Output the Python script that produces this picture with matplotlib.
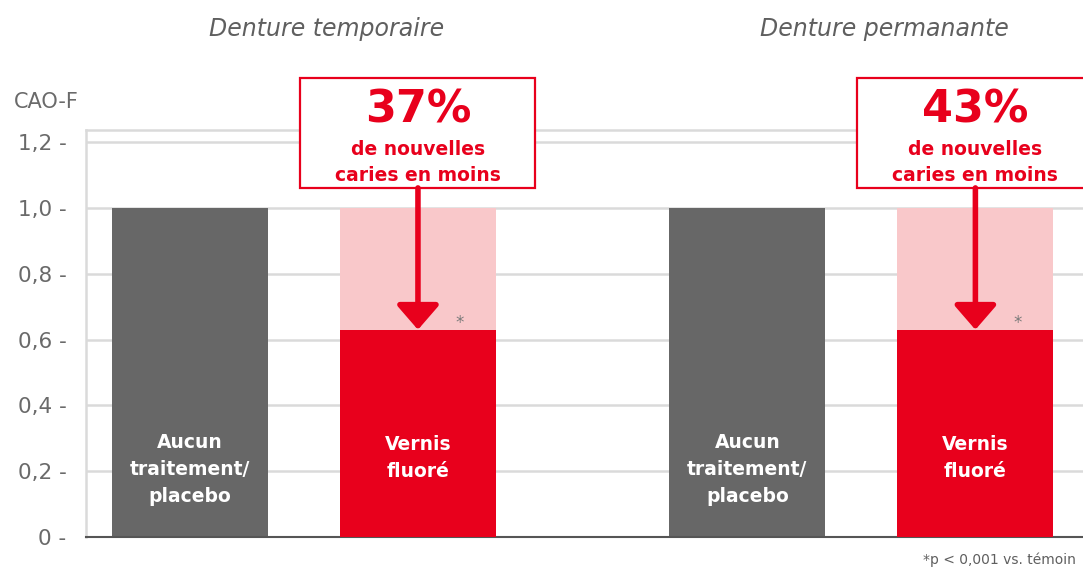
import matplotlib.pyplot as plt
from matplotlib.patches import Rectangle

# --- data
groups = ["Denture temporaire", "Denture permanante"]
labels = ["Aucun\ntraitement/\nplacebo", "Vernis\nfluoré"]
control = [1.0, 1.0]
vernis = [0.63, 0.63]
reductions = ["37%", "43%"]
yticks = [0, 0.2, 0.4, 0.6, 0.8, 1.0, 1.2]
ytick_labels = ["0 -", "0,2 -", "0,4 -", "0,6 -", "0,8 -", "1,0 -", "1,2 -"]

grey = "#676767"
red = "#e8001c"
pink = "#f9c8ca"
txt = "#5f5f5f"

plt.rcParams['font.family'] = ['DejaVu Sans']

fig = plt.figure(figsize=(10.83, 5.69), dpi=100)
ax = fig.add_axes([86 / 1083, 1 - 537 / 569, 1 - 86 / 1083, (537 - 130) / 569])

offsets = [0, 2.445]
w = 0.685
for g, off in enumerate(offsets):
    ax.bar(off, control[g], width=w, color=grey, zorder=2)
    ax.bar(off + 1, 1.0, width=w, color=pink, zorder=2)
    ax.bar(off + 1, vernis[g], width=w, color=red, zorder=3)

    ax.text(off, 0.205, labels[0], ha='center', va='center', color='white',
            fontsize=13.5, fontweight='bold', linespacing=1.55, zorder=4)
    ax.text(off + 1, 0.24, labels[1], ha='center', va='center', color='white',
            fontsize=13.5, fontweight='bold', linespacing=1.55, zorder=4)

    # asterisk
    ax.text(off + 1 + 0.185, vernis[g] + 0.02, "*", ha='center', va='center',
            color='#7a7a7a', fontsize=12, zorder=4)

    # callout box
    bx, bw = off + 1 - 0.518, 1.03
    ax.add_patch(Rectangle((bx, 1.061), bw, 0.334, facecolor='white',
                           edgecolor=red, lw=1.6, clip_on=False, zorder=5))
    ax.text(off + 1, 1.298, reductions[g], ha='center', va='center', color=red,
            fontsize=32, fontweight='bold', zorder=6, clip_on=False)
    ax.text(off + 1, 1.177, "de nouvelles", ha='center', va='center', color=red,
            fontsize=13.5, fontweight='bold', zorder=6, clip_on=False)
    ax.text(off + 1, 1.099, "caries en moins", ha='center', va='center', color=red,
            fontsize=13.5, fontweight='bold', zorder=6, clip_on=False)

    # arrow
    ax.annotate('', xy=(off + 1, vernis[g]), xytext=(off + 1, 1.061),
                arrowprops=dict(arrowstyle='-|>,head_length=0.75,head_width=0.65',
                                mutation_scale=20, lw=4, color=red,
                                shrinkA=0, shrinkB=0), zorder=6)

    # group title
    ax.text(off + 0.6, 1.545, groups[g], ha='center', va='center', color=txt,
            fontsize=17, fontstyle='italic', clip_on=False)

ax.set_xlim(-0.456, 3.917)
ax.set_ylim(0, 1.237)
ax.set_yticks(yticks)
ax.set_yticklabels(ytick_labels, fontsize=15.5, color='#6a6a6a')
ax.tick_params(axis='y', length=0, pad=14)
ax.set_xticks([])
ax.yaxis.grid(True, color='#dadada', lw=1.8, zorder=0)
ax.set_axisbelow(True)

for s in ['top', 'left', 'right']:
    ax.spines[s].set_color('#dadada')
    ax.spines[s].set_linewidth(1.8)
ax.spines['right'].set_visible(False)
ax.spines['bottom'].set_color('#555555')
ax.spines['bottom'].set_linewidth(1.5)

fig.text(14 / 1083, 1 - 102 / 569, "CAO-F", ha='left', va='center',
         fontsize=15, color='#6a6a6a')
fig.text(1076 / 1083, 1 - 560 / 569, "*p < 0,001 vs. témoin", ha='right',
         va='center', fontsize=10, color=txt)

fig.savefig("out.png", dpi=100)
